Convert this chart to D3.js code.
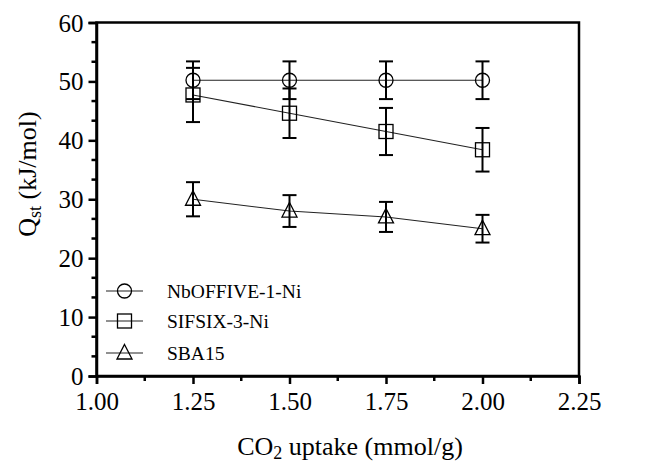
<!DOCTYPE html>
<html><head><meta charset="utf-8">
<script src="https://cdn.jsdelivr.net/npm/d3@7/dist/d3.min.js"></script>
<style>body{margin:0;background:#fff}svg{display:block}svg text{font-family:"Liberation Serif","Times New Roman",serif !important;fill:#000}</style>
</head><body><div id="chart"></div>
<script>
const xValues = [1.25, 1.50, 1.75, 2.00];
const seriesNames = ["NbOFFIVE-1-Ni", "SIFSIX-3-Ni", "SBA15"];
const seriesSymbols = ["circle", "square", "triangle"];
const nbValues = [50.2, 50.2, 50.2, 50.2];
const nbErrors = [3.2, 3.2, 3.2, 3.2];
const sifValues = [47.7, 44.6, 41.5, 38.4];
const sifErrors = [4.6, 4.2, 4.0, 3.7];
const sbaValues = [30.0, 28.0, 27.0, 25.0];
const sbaErrors = [2.9, 2.7, 2.55, 2.35];
const xTicks = [1.00, 1.25, 1.50, 1.75, 2.00, 2.25];
const yTicks = [0, 10, 20, 30, 40, 50, 60];

const W = 654, H = 464;
const SERIF = '"Liberation Serif", "Times New Roman", serif';
const svg = d3.select("#chart").append("svg").attr("width", W).attr("height", H);
const x = d3.scaleLinear().domain([1.0, 2.25]).range([96.5, 579]);
const y = d3.scaleLinear().domain([0, 60]).range([376, 22.5]);

const series = [
  {name: seriesNames[0], sym: seriesSymbols[0], v: nbValues, e: nbErrors},
  {name: seriesNames[1], sym: seriesSymbols[1], v: sifValues, e: sifErrors},
  {name: seriesNames[2], sym: seriesSymbols[2], v: sbaValues, e: sbaErrors}
];

function marker(g, sym, cx, cy) {
  if (sym === "circle") {
    g.append("circle").attr("cx", cx).attr("cy", cy).attr("r", 7)
      .attr("fill", "none").attr("stroke", "#000").attr("stroke-width", 1.3);
  } else if (sym === "square") {
    g.append("rect").attr("x", cx - 7).attr("y", cy - 7).attr("width", 14).attr("height", 14)
      .attr("fill", "none").attr("stroke", "#000").attr("stroke-width", 1.3);
  } else {
    g.append("path").attr("d", `M${cx},${cy - 8.5}L${cx + 7.5},${cy + 6}L${cx - 7.5},${cy + 6}Z`)
      .attr("fill", "none").attr("stroke", "#000").attr("stroke-width", 1.3);
  }
}

// frame
svg.append("rect").attr("x", x(1.0)).attr("y", y(60)).attr("width", x(2.25) - x(1.0)).attr("height", y(0) - y(60))
  .attr("fill", "none").attr("stroke", "#000").attr("stroke-width", 2.5);

// axes
const xAxis = d3.axisBottom(x).tickValues(xTicks).tickFormat(d3.format(".2f")).tickSize(8).tickPadding(8);
const gx = svg.append("g").attr("transform", `translate(0,${y(0)})`).call(xAxis);
const xMinor = d3.range(0, 5).map(i => 1.125 + 0.25 * i);
gx.selectAll(".minor").data(xMinor).enter().append("line").attr("class", "minor")
  .attr("x1", d => x(d)).attr("x2", d => x(d)).attr("y1", 0).attr("y2", 5)
  .attr("stroke", "#000").attr("stroke-width", 2.5);

const yAxis = d3.axisLeft(y).tickValues(yTicks).tickSize(8).tickPadding(5);
const gy = svg.append("g").attr("transform", `translate(${x(1.0)},0)`).call(yAxis);
const yMinor = [];
yTicks.slice(0, -1).forEach(t => { yMinor.push(t + 10 / 3, t + 20 / 3); });
gy.selectAll(".minor").data(yMinor).enter().append("line").attr("class", "minor")
  .attr("y1", d => y(d)).attr("y2", d => y(d)).attr("x1", 0).attr("x2", -5)
  .attr("stroke", "#000").attr("stroke-width", 2.5);

[gx, gy].forEach(g => {
  g.attr("font-family", null).attr("font-size", null);
  g.select(".domain").attr("stroke-width", 2.5);
  g.selectAll(".tick line").attr("stroke-width", 2.5);
  g.selectAll(".tick text").style("font-family", SERIF).style("font-size", "25px").attr("fill", "#000");
});
gy.selectAll(".tick text").attr("dy", "0.34em");
gx.selectAll(".tick text").attr("dy", "0.72em");

// series
const lineGen = d3.line().x(d => x(d[0])).y(d => y(d[1]));
series.forEach(s => {
  const pts = xValues.map((xv, i) => [xv, s.v[i], s.e[i]]);
  const g = svg.append("g");
  g.append("path").attr("d", lineGen(pts)).attr("fill", "none").attr("stroke", "#222").attr("stroke-width", 1.1);
  pts.forEach(p => {
    const cx = x(p[0]);
    g.append("line").attr("x1", cx).attr("x2", cx).attr("y1", y(p[1] + p[2])).attr("y2", y(p[1] - p[2]))
      .attr("stroke", "#000").attr("stroke-width", 2);
    [p[1] + p[2], p[1] - p[2]].forEach(v => {
      g.append("line").attr("x1", cx - 7).attr("x2", cx + 7).attr("y1", y(v)).attr("y2", y(v))
        .attr("stroke", "#000").attr("stroke-width", 2);
    });
    marker(g, s.sym, cx, y(p[1]));
  });
});

// legend
const legRows = [291, 321, 353];
series.forEach((s, i) => {
  const g = svg.append("g");
  const yy = legRows[i];
  g.append("line").attr("x1", 106).attr("x2", 143).attr("y1", yy).attr("y2", yy).attr("stroke", "#222").attr("stroke-width", 1.1);
  marker(g, s.sym, 124.5, yy);
  g.append("text").attr("x", 167).attr("y", yy + 6.5).style("font-size", "19.5px").text(s.name);
});

// axis titles
const xt = svg.append("text").attr("x", 350).attr("y", 455).attr("text-anchor", "middle").style("font-size", "26px");
xt.append("tspan").text("CO");
xt.append("tspan").style("font-size", "18px").attr("dy", 4).text("2");
xt.append("tspan").attr("dy", -4).text(" uptake (mmol/g)");

const yt = svg.append("text").attr("transform", "translate(36,174) rotate(-90)").attr("text-anchor", "middle").style("font-size", "26px");
yt.append("tspan").text("Q");
yt.append("tspan").style("font-size", "18px").attr("dy", 5).text("st");
yt.append("tspan").attr("dy", -5).text(" (kJ/mol)");
</script></body></html>
